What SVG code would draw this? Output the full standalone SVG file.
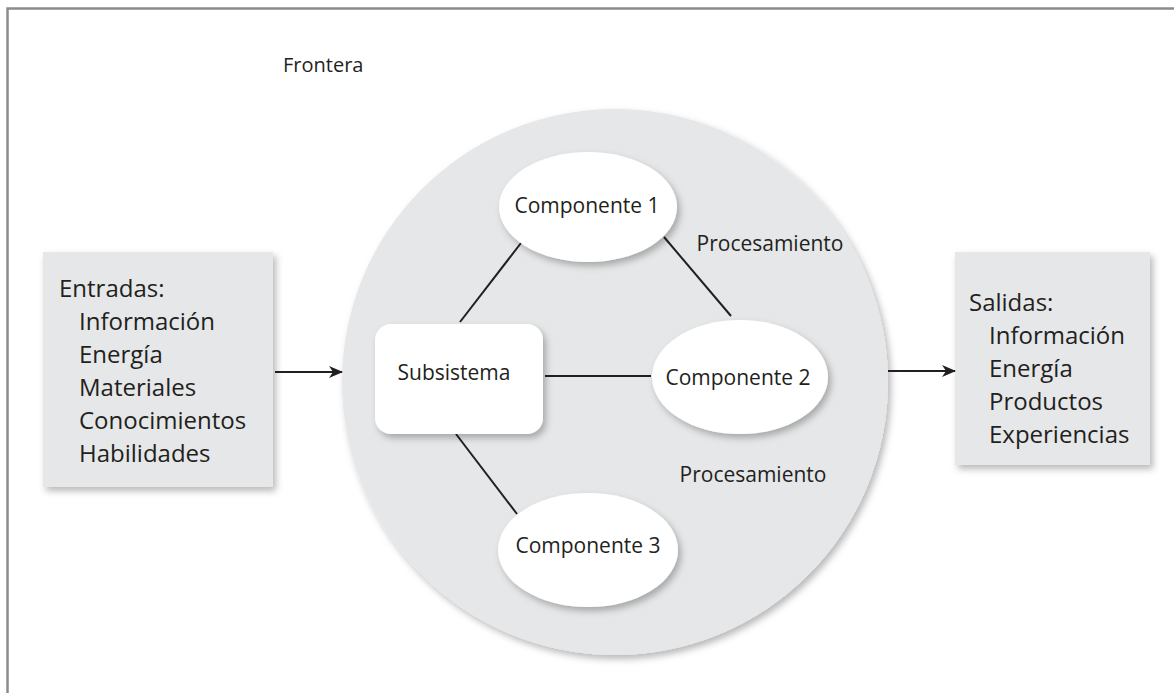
<svg xmlns="http://www.w3.org/2000/svg" width="1174" height="693" viewBox="0 0 1174 693">
<style>
  text { font-family: "Open Sans", "Noto Sans", "Liberation Sans", sans-serif; fill: #231f20; }
  .lg { font-size: 24px; }
  .md { font-size: 21px; }
  .sm { font-size: 20px; }
  .box { fill: #e6e7e8; filter: url(#sh); }
  .wht { fill: #ffffff; filter: url(#sh); }
  .edge { stroke: #231f20; stroke-width: 2; fill: none; }
</style>
<defs>
  <filter id="sh" x="-20%" y="-20%" width="150%" height="150%">
    <feDropShadow dx="3" dy="4" stdDeviation="3.5" flood-color="#000" flood-opacity="0.28"/>
  </filter>
  <marker id="arr" markerWidth="14" markerHeight="12" refX="13" refY="6" orient="auto" markerUnits="userSpaceOnUse">
    <path d="M0,0 L14,6 L0,12 L4,6 Z" fill="#231f20"/>
  </marker>
</defs>
<rect x="0" y="0" width="1174" height="693" fill="#ffffff"/>
<path d="M7.5,693 L7.5,8.5 L1174,8.5" fill="none" stroke="#8c8c8c" stroke-width="2.5"/>
<text class="sm" x="283" y="72">Frontera</text>

<g id="frontera">
  <circle class="box" cx="615" cy="382" r="273"/>
</g>

<g id="entradas">
  <rect class="box" x="43" y="252" width="230" height="235"/>
  <text class="lg" x="59" y="297">Entradas:</text>
  <text class="lg" x="79" y="330">Información</text>
  <text class="lg" x="79" y="363">Energía</text>
  <text class="lg" x="79" y="396">Materiales</text>
  <text class="lg" x="79" y="429">Conocimientos</text>
  <text class="lg" x="79" y="462">Habilidades</text>
</g>

<g id="salidas">
  <rect class="box" x="955" y="252" width="195" height="213"/>
  <text class="lg" x="969" y="311">Salidas:</text>
  <text class="lg" x="989" y="344">Información</text>
  <text class="lg" x="989" y="377">Energía</text>
  <text class="lg" x="989" y="410">Productos</text>
  <text class="lg" x="989" y="443">Experiencias</text>
</g>

<g id="connectors">
  <line class="edge" x1="460" y1="322" x2="521" y2="243"/>
  <line class="edge" x1="664" y1="237" x2="731" y2="316"/>
  <line class="edge" x1="545" y1="376" x2="651" y2="376"/>
  <line class="edge" x1="456" y1="434" x2="517" y2="514"/>
  <line class="edge" x1="275" y1="372" x2="342" y2="372" marker-end="url(#arr)"/>
  <line class="edge" x1="888" y1="371" x2="955" y2="371" marker-end="url(#arr)"/>
</g>

<g id="subsistema">
  <rect class="wht" x="375" y="324" width="168" height="110" rx="16"/>
  <text class="md" x="454" y="380" text-anchor="middle">Subsistema</text>
</g>

<g id="componente1">
  <ellipse class="wht" cx="588" cy="207" rx="89" ry="55"/>
  <text class="md" x="587" y="213" text-anchor="middle">Componente 1</text>
</g>

<g id="componente2">
  <ellipse class="wht" cx="740" cy="377" rx="88" ry="57"/>
  <text class="md" x="738" y="385" text-anchor="middle">Componente 2</text>
</g>

<g id="componente3">
  <ellipse class="wht" cx="588" cy="550" rx="90" ry="57"/>
  <text class="md" x="588" y="553" text-anchor="middle">Componente 3</text>
</g>

<g id="labels">
  <text class="md" x="770" y="251" text-anchor="middle">Procesamiento</text>
  <text class="md" x="753" y="482" text-anchor="middle">Procesamiento</text>
</g>
</svg>
